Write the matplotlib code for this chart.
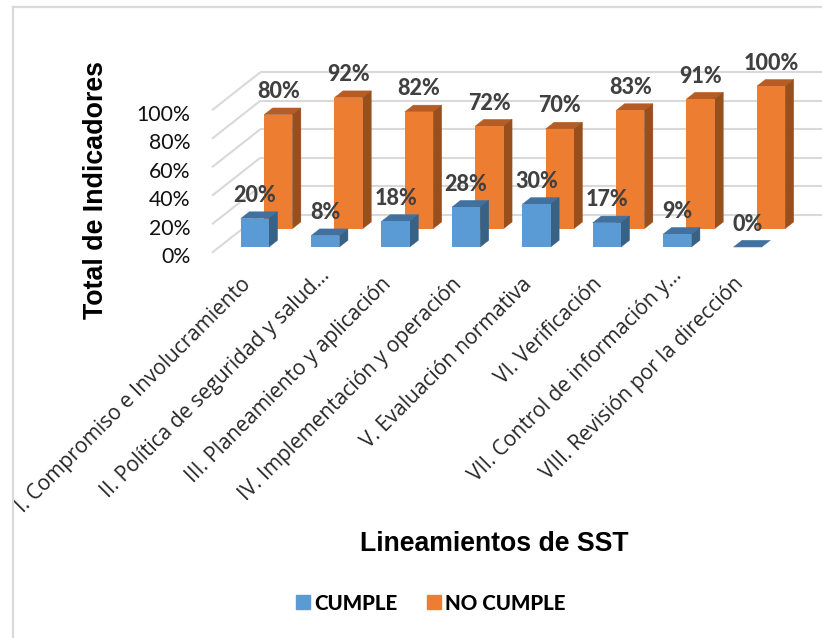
import matplotlib
matplotlib.use("Agg")
import matplotlib.pyplot as plt
from matplotlib.lines import Line2D
from matplotlib.patches import Patch, Polygon

categorias = [
    "I. Compromiso e Involucramiento",
    "II. Política de seguridad y salud…",
    "III. Planeamiento y aplicación",
    "IV. Implementación y operación",
    "V. Evaluación normativa",
    "VI. Verificación",
    "VII. Control de información y…",
    "VIII. Revisión por la dirección",
]
cumple = [20, 8, 18, 28, 30, 17, 9, 0]
no_cumple = [80, 92, 82, 72, 70, 83, 91, 100]
ticks_y = [0, 20, 40, 60, 80, 100]

W, H = 822, 638
PX_X = 70.4   # px por categoria
PX_Y = 1.425  # px por punto porcentual
ORIG_X, ORIG_Y = 247.6, 252.7

# profundidad de la pared del fondo, en unidades de datos
FONDO_X = 48 / PX_X
FONDO_Y = 37.7 / PX_Y
ANCHO = 28.3 / PX_X
PROF_BARRA = 0.178

GRIS = "#D9D9D9"
TEXTO = "#404040"


def proy(x, y, d):
    return x + FONDO_X * d, y + FONDO_Y * d


def barras3d(ax, valores, d0, frente, arriba, lado, z):
    d1 = d0 + PROF_BARRA
    for i, v in enumerate(valores):
        xc, base = proy(i, 0, d0)
        ax.bar(xc, v, ANCHO, bottom=base, color=frente, linewidth=0, zorder=z + 0.1)
        x0 = i - ANCHO / 2
        x1 = i + ANCHO / 2
        ax.add_patch(Polygon([proy(x0, v, d0), proy(x1, v, d0), proy(x1, v, d1), proy(x0, v, d1)],
                             closed=True, facecolor=arriba, edgecolor=arriba, linewidth=0.3, zorder=z))
        if v > 0:
            ax.add_patch(Polygon([proy(x1, 0, d0), proy(x1, v, d0), proy(x1, v, d1), proy(x1, 0, d1)],
                                 closed=True, facecolor=lado, edgecolor=lado, linewidth=0.3, zorder=z))
        ax.text(xc, base + v + 23 / PX_Y, f"{v}%", ha="center", va="center", fontsize=15.5,
                fontweight=900, color=TEXTO, family="Lato", zorder=10)


fig = plt.figure(figsize=(W / 100, H / 100), dpi=100)
ax = fig.add_axes([0, 0, 1, 1])
ax.set_xlim(-ORIG_X / PX_X, (W - ORIG_X) / PX_X)
ax.set_ylim((ORIG_Y - H) / PX_Y, ORIG_Y / PX_Y)
ax.axis("off")

# marco del grafico
fig.add_artist(Line2D([13 / W, 13 / W], [0, 1 - 7 / H], color=GRIS, lw=1.6))
fig.add_artist(Line2D([13 / W, 1], [1 - 7 / H, 1 - 7 / H], color=GRIS, lw=1.6))

# cuadricula: pared izquierda y pared del fondo
x_izq = (212 - ORIG_X) / PX_X
for t in ticks_y:
    xb, yb = proy(x_izq, t, 1)
    ax.plot([x_izq, xb], [t, yb], color=GRIS, lw=1.5, zorder=1, solid_capstyle="butt")
    ax.plot([xb, (W - ORIG_X) / PX_X], [yb, yb], color=GRIS, lw=1.5, zorder=1, solid_capstyle="butt")
    ax.text((190.5 - ORIG_X) / PX_X, t - 4.5 / PX_Y, f"{t}%", ha="right", va="center",
            fontsize=15.3, color="#111111", family="Lato")

barras3d(ax, no_cumple, 0.637, "#ED7D31", "#B55D25", "#964F1D", 3)
barras3d(ax, cumple, 0.151, "#5B9BD5", "#41719F", "#376285", 5)

# etiquetas de categoria, las truncadas quedan algo mas afuera
for i, cat in enumerate(categorias):
    dx, dy = (9, 9) if cat.endswith("…") else (0, 0)
    ax.annotate(cat, xy=(i, (ORIG_Y - 281) / PX_Y), xytext=(dx, dy), textcoords="offset pixels",
                rotation=45, rotation_mode="anchor", ha="right", va="center",
                fontsize=15, color="#262626", family="Open Sans")

fig.text(96 / W, 1 - 190 / H, "Total de Indicadores", rotation=90, ha="center", va="center",
         fontsize=19.3, fontweight="bold", color="black", family="Liberation Sans")
fig.text(494 / W, 1 - 544 / H, "Lineamientos de SST", ha="center", va="center",
         fontsize=19.2, fontweight="bold", color="black", family="Liberation Sans")

handles = [Patch(color="#5B9BD5", label="CUMPLE"), Patch(color="#ED7D31", label="NO CUMPLE")]
fig.legend(handles=handles, loc="center", bbox_to_anchor=(431 / W, 1 - 603 / H), ncol=2, frameon=False,
           handlelength=0.65, handleheight=0.65, handletextpad=0.22, columnspacing=1.45,
           prop={"family": "Lato", "weight": 900, "size": 14.8})

fig.savefig("out.png", dpi=100)
